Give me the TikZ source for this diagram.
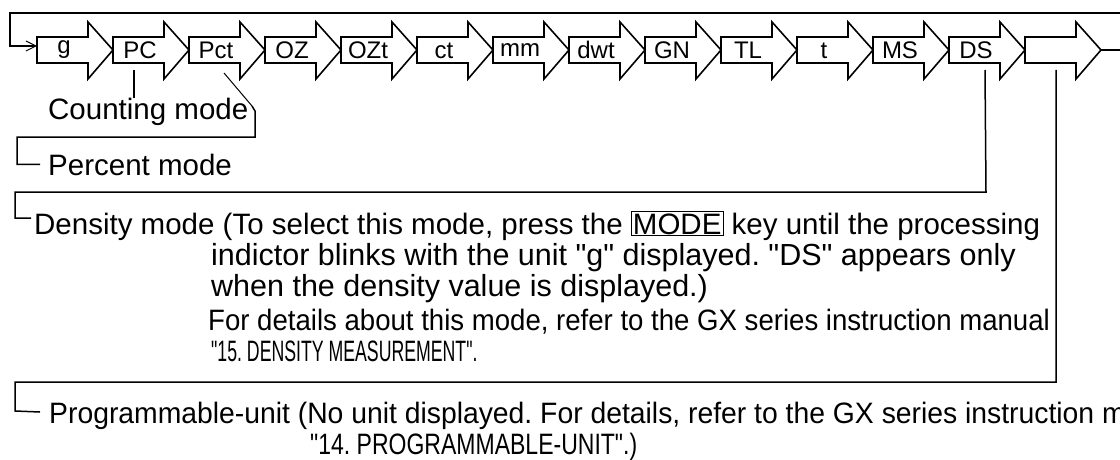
\documentclass[tikz,border=0pt]{standalone}
\usepackage{fontspec}
\newfontfamily\basefont{Liberation Sans}
\newfontfamily\narrowfont[FakeStretch=0.935]{Liberation Sans}
\newfontfamily\semifont[FakeStretch=0.96]{Liberation Sans}
\newfontfamily\capsfont[FakeStretch=0.6]{Liberation Sans}
\newfontfamily\capsbfont[FakeStretch=0.78]{Liberation Sans}
\usetikzlibrary{positioning,arrows.meta}

\begin{document}
\frenchspacing
\begin{tikzpicture}[x=1pt, y=-1pt,
    unitarrow/.style={draw, line width=1.6pt, line join=miter},
    unit/.style={inner sep=0pt, anchor=base, font=\basefont\fontsize{24}{24}\selectfont},
    note/.style={inner sep=0pt, anchor=base west, font=\basefont\fontsize{29.5}{30}\selectfont},
    wide note/.style={note, font=\basefont\fontsize{30.5}{31}\selectfont},
    narrow note/.style={note, font=\narrowfont\fontsize{29.5}{30}\selectfont},
    caps note/.style={note, font=\capsfont\fontsize{29.5}{30}\selectfont},
    wire/.style={draw, line width=1.5pt},
    thinwire/.style={draw, line width=1pt}
]
\useasboundingbox (0,0) rectangle (1120,460);

% unit chain
\foreach \lbl/\nm/\by [count=\i from 0] in {g/g/54, PC/pc/59, Pct/pct/59, OZ/oz/59, OZt/ozt/59, ct/ct/59, mm/mm/57, dwt/dwt/59, GN/gn/59, TL/tl/59, t/t/59, MS/ms/59, DS/ds/59, {}/blank/59} {
  \pgfmathsetmacro{\xl}{37+76*\i}
  \draw[unitarrow] (\xl,37) -- ++(51,0) -- ++(0,-15) -- ++(25,28) -- ++(-25,29) -- ++(0,-16) -- ++(-51,0) -- cycle;
  \node[unit] (u-\nm) at (\xl+27,\by) {\lbl};
  \coordinate (in-\nm) at (\xl,46);
  \coordinate (tip-\nm) at (\xl+76,50);
}

% mode notes
\node[note] (counting) at (48,120) {Counting mode};
\node[note] (percent) at (48,175) {Percent mode};
\node[note] (density) at (34,234) {Density mode (To select this mode, press the {\fboxsep=1pt\fboxrule=1pt\fbox{MODE}} key until the processing};
\node[wide note] (density-b) at (211,265) {indictor blinks with the unit "g" displayed. "DS" appears only};
\node[wide note] (density-c) at (211,296) {when the density value is displayed.)};
\node[narrow note] (details) at (208,330) {For details about this mode, refer to the GX series instruction manual};
\node[caps note] (section) at (211,361) {"15. DENSITY MEASUREMENT".};
\node[note, font=\semifont\fontsize{29.5}{30}\selectfont] (prog) at (49,423) {Programmable-unit (No unit displayed. For details, refer to the GX series instruction m};
\node[note, font=\capsbfont\fontsize{29.5}{30}\selectfont] (prog-b) at (310,454) {"14. PROGRAMMABLE-UNIT".)};

% return loop
\coordinate (ret) at (1120,13);
\coordinate (out) at (1120,50);
\draw[wire, -{Straight Barb[length=10pt, width=10pt, line width=1pt]}] (ret) -- (10,13) -- (10,46) -- (in-g);
\draw[wire] (tip-blank) -- (out);

% leaders
\coordinate (pc-foot) at ([shift={(-6pt,-11pt)}]u-pc.base);
\draw[wire] (pc-foot) -- (pc-foot |- counting.north);
\coordinate (pct-foot) at ([shift={(8pt,-14pt)}]u-pct.base);
\draw[thinwire] (pct-foot) -- (252,106);
\draw[wire] (252,106) -- (255,111) -- (255,137) -- (17,137) |- ([xshift=-8pt]percent.west);
\coordinate (ds-foot) at ([shift={(9pt,-11pt)}]u-ds.base);
\draw[wire] (ds-foot) -- (986,192) -- (15,192) -- (15,218) -- ([shift={(-3pt,16pt)}]density.base west);
\coordinate (blank-foot) at ([shift={(4pt,-11pt)}]u-blank.base);
\draw[wire] (blank-foot) -- (1056,382) -- (15,382) -- (15,411) -- ([shift={(-9pt,11pt)}]prog.base west);
\end{tikzpicture}
\end{document}
